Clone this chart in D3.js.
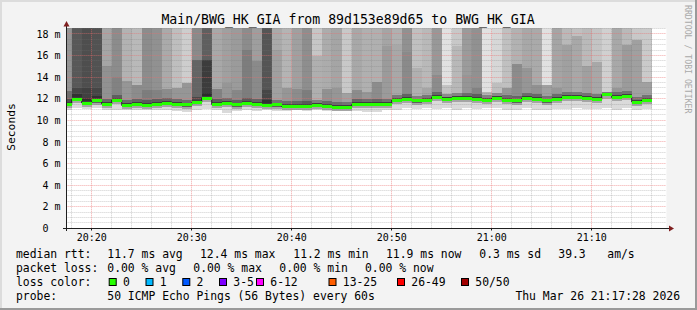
<!DOCTYPE html>
<html>
<head>
<meta charset="utf-8">
<script src="https://cdn.jsdelivr.net/npm/d3@7"></script>
<style>
body{margin:0;background:#f3f3f3;}
svg text{font-family:"DejaVu Sans Mono",monospace;fill:#000;}
</style>
</head>
<body>
<svg id="chart" width="697" height="310"></svg>
<script>
/* one smoke column per minute, value = end of the 60s step */
var minutes = ["20:18","20:19","20:20","20:21","20:22","20:23","20:24","20:25","20:26","20:27",
    "20:28","20:29","20:30","20:31","20:32","20:33","20:34","20:35","20:36","20:37",
    "20:38","20:39","20:40","20:41","20:42","20:43","20:44","20:45","20:46","20:47",
    "20:48","20:49","20:50","20:51","20:52","20:53","20:54","20:55","20:56","20:57",
    "20:58","20:59","21:00","21:01","21:02","21:03","21:04","21:05","21:06","21:07",
    "21:08","21:09","21:10","21:11","21:12","21:13","21:14","21:15","21:16"];

// median rtt (ms)
var medianRtt = [11.45,11.93,11.60,11.79,11.51,11.88,11.37,11.46,11.37,11.46,
    11.56,11.46,11.42,11.65,12.06,11.46,11.56,11.42,11.56,11.46,
    11.37,11.42,11.28,11.28,11.28,11.37,11.28,11.23,11.23,11.46,
    11.46,11.46,11.51,11.88,11.93,11.79,11.84,12.15,11.97,12.06,
    12.06,11.97,11.88,12.06,11.88,11.79,12.06,11.93,11.79,11.93,
    12.15,12.15,12.06,11.93,12.36,12.11,12.20,11.69,11.88];

// fastest ping of each step (ms)
var minRtt = [10.95,11.10,11.05,11.10,10.95,11.00,10.95,10.95,10.95,10.95,
    11.00,10.90,10.75,10.95,11.05,10.95,10.70,10.85,10.95,10.90,
    10.95,10.90,10.90,10.95,10.90,10.95,10.90,10.95,10.95,10.90,
    10.75,10.80,10.95,11.00,11.15,11.05,11.10,11.05,11.10,11.00,
    11.10,11.05,11.10,11.10,11.00,10.95,11.10,11.00,10.95,11.05,
    11.05,11.10,11.05,11.05,11.10,11.00,11.10,10.95,11.05];

// smoke density seen at the top of the graph (gray level)
var topShade = [148,88,78,82,165,140,178,185,140,145,
    170,190,205,138,95,168,160,155,140,158,
    85,170,180,160,142,198,172,165,200,168,
    176,176,165,176,145,192,185,152,225,200,
    155,145,225,215,192,178,168,170,225,165,
    185,192,186,196,208,168,185,200,202];

// rtt where the upper smoke changes density (ms)
var stepRtt = [12.70,12.96,13.00,13.00,15.00,14.00,13.60,13.30,12.80,12.80,
    12.90,13.00,13.50,15.60,15.60,12.90,13.50,12.80,16.50,15.50,
    12.80,16.50,13.00,12.90,12.80,16.00,12.90,13.00,12.50,12.80,
    12.60,13.57,16.90,17.00,16.30,14.80,13.00,14.20,13.30,16.90,
    14.20,13.00,12.60,13.50,12.96,15.20,14.80,13.30,13.27,13.00,
    17.00,17.80,15.00,15.40,12.65,13.00,17.00,17.40,13.57];

// smoke density below that change (gray level)
var midShade = [110,70,65,70,145,130,150,140,125,130,
    140,150,150,100,60,130,150,135,125,138,
    70,160,150,140,125,175,145,150,160,140,
    150,140,155,168,138,176,165,140,195,184,
    150,130,180,190,150,140,150,145,160,150,
    160,168,160,168,168,150,155,160,160];

// lost pings per step (of 50)
var lossCount = [0,0,0,0,0,0,0,0,0,0, 0,0,0,0,0,0,0,0,0,0,
    0,0,0,0,0,0,0,0,0,0, 0,0,0,0,0,0,0,0,0,0,
    0,0,0,0,0,0,0,0,0,0, 0,0,0,0,0,0,0,0,0];

var lossLabels = ["0","1","2","3-5","6-12","13-25","26-49","50/50"];
var lossUpper = [0,1,2,5,12,25,49,50];
var lossColors = ["#26ff00","#00b8ff","#0059ff","#7e00ff","#ff00ff","#ff5e00","#ff0000","#a10000"];

// summary lines as printed under the graph
var rttStats = ["11.7 ms avg","12.4 ms max","11.2 ms min","11.9 ms now","0.3 ms sd","39.3","am/s"];
var lossStats = ["0.00 % avg","0.00 % max","0.00 % min","0.00 % now"];

var yTicks = [0,2,4,6,8,10,12,14,16,18];

var svg = d3.select('#chart');
var W = 697, H = 310;

var day = function(s){
    var p = s.split(':');
    return new Date(2026,2,26,+p[0],+p[1],+(p[2]||0));
};
var tStart = day("20:17:28"), tEnd = day("21:17:28");

var x = d3.scaleTime().domain([tStart,tEnd]).range([66.4,666.4]);
var y = d3.scaleLinear().domain([0,18.52]).range([228.3,28.3]);
var gray = d3.scaleLinear().domain([0,255]).range(['#000000','#ffffff']);
var lossColor = d3.scaleThreshold().domain(lossUpper.slice(0,-1).map(function(d){return d+0.5;})).range(lossColors);
var px = function(v){ return Math.floor(v)+0.5; };

// background and 3d frame
svg.append('rect').attr('width',W).attr('height',H).style('fill','#f3f3f3');
svg.append('rect').attr('x',0).attr('y',0).attr('width',W).attr('height',2).style('fill','#dcdcdc');
svg.append('rect').attr('x',0).attr('y',0).attr('width',2).attr('height',H).style('fill','#dcdcdc');
svg.append('rect').attr('x',0).attr('y',H-2).attr('width',W).attr('height',2).style('fill','#9a9a9a');
svg.append('rect').attr('x',W-2).attr('y',0).attr('width',2).attr('height',H).style('fill','#9a9a9a');

// canvas
svg.append('rect')
    .attr('x',x.range()[0]).attr('y',y.range()[1])
    .attr('width',x.range()[1]-x.range()[0])
    .attr('height',y.range()[0]-y.range()[1])
    .style('fill','#fff');

// columns
var cols = minutes.map(function(m,i){
    var t1 = day(m);
    var t0 = new Date(Math.max(+tStart, t1 - 60000));
    return {x0:x(t0), x1:x(t1), i:i};
});

var yTop = y.domain()[1];
var smoke = svg.append('g').attr('class','smoke');

function band(c,lo,hi,shade){
    lo = Math.max(lo,0); hi = Math.min(hi,yTop);
    if(hi<=lo) return;
    smoke.append('rect')
        .attr('x',c.x0).attr('width',c.x1-c.x0)
        .attr('y',y(hi)).attr('height',y(lo)-y(hi))
        .attr('shape-rendering','crispEdges')
        .style('fill',gray(shade));
}

cols.forEach(function(c){
    var i = c.i, med = medianRtt[i], st = stepRtt[i], mid = midShade[i];
    band(c, st, yTop, topShade[i]);
    band(c, Math.min(med+0.5,st), st, mid);
    band(c, Math.min(med+0.2,st), Math.min(med+0.5,st), mid*0.72);
    band(c, med, Math.min(med+0.2,st), 62);
    band(c, med-0.15, med, 95);
    band(c, med-0.35, med-0.15, 165);
    band(c, minRtt[i], med-0.35, 218);
});

// grid
var grid = svg.append('g').attr('class','grid');
var minorY = d3.range(0,18.51,0.5).filter(function(v){return v%2!==0;});
var minorX = d3.timeMinute.every(2).range(tStart,tEnd).filter(function(t){return t.getMinutes()%10!==0;});
var majorX = d3.timeMinute.every(10).range(tStart,tEnd);
var minorStroke = 'rgba(120,120,120,0.36)', majorStroke = 'rgba(235,110,110,0.6)';

grid.selectAll('line.minor-y').data(minorY).enter().append('line')
    .attr('x1',x.range()[0]).attr('x2',x.range()[1])
    .attr('y1',function(d){return px(y(d));}).attr('y2',function(d){return px(y(d));})
    .style('stroke',minorStroke).style('stroke-dasharray','1,1');
grid.selectAll('line.minor-x').data(minorX).enter().append('line')
    .attr('y1',y.range()[0]).attr('y2',y.range()[1])
    .attr('x1',function(d){return px(x(d));}).attr('x2',function(d){return px(x(d));})
    .style('stroke',minorStroke).style('stroke-dasharray','1,1');
grid.selectAll('line.major-y').data(yTicks.slice(1)).enter().append('line')
    .attr('x1',x.range()[0]).attr('x2',x.range()[1])
    .attr('y1',function(d){return px(y(d));}).attr('y2',function(d){return px(y(d));})
    .style('stroke',majorStroke).style('stroke-dasharray','1,1');
grid.selectAll('line.major-x').data(majorX).enter().append('line')
    .attr('y1',y.range()[0]).attr('y2',y.range()[1])
    .attr('x1',function(d){return px(x(d));}).attr('x2',function(d){return px(x(d));})
    .style('stroke',majorStroke).style('stroke-dasharray','1,1');

// median: dark step line under the loss coloured band
var pts = [];
cols.forEach(function(c){
    pts.push([c.x0, y(medianRtt[c.i])]);
    pts.push([c.x1, y(medianRtt[c.i])]);
});
svg.append('path')
    .attr('d',d3.line()(pts))
    .style('fill','none').style('stroke','#202020').style('stroke-width',1);

svg.append('g').selectAll('rect').data(cols).enter().append('rect')
    .attr('x',function(c){return c.x0;})
    .attr('width',function(c){return c.x1-c.x0;})
    .attr('y',function(c){return y(medianRtt[c.i])-1.5;})
    .attr('height',3)
    .attr('shape-rendering','crispEdges')
    .style('fill',function(c){return lossColor(lossCount[c.i]);});

// axes
var ax = svg.append('g').style('stroke','#1f1f1f').style('stroke-width',1);
ax.append('line').attr('x1',63).attr('x2',669).attr('y1',px(y(0))).attr('y2',px(y(0)));
ax.append('line').attr('x1',px(x.range()[0])).attr('x2',px(x.range()[0])).attr('y1',231).attr('y2',26);
ax.selectAll('line.tick').data(majorX).enter().append('line')
    .attr('x1',function(d){return px(x(d));}).attr('x2',function(d){return px(x(d));})
    .attr('y1',px(y(0))).attr('y2',px(y(0))+2);
svg.append('path').attr('d','M63.5,26.5L69.5,26.5L66.5,21Z').style('fill','#7f1f1f');
svg.append('path').attr('d','M669,225.5L669,231.5L674,228.5Z').style('fill','#7f1f1f');

// tick labels
svg.append('g').selectAll('text').data(yTicks).enter().append('text')
    .attr('x',60.5).attr('y',function(d){return y(d)+3.6;})
    .attr('text-anchor','end').style('font-size','10px')
    .text(function(d){return d===0 ? '0\u00a0\u00a0' : d+' m';});

svg.append('g').selectAll('text').data(majorX).enter().append('text')
    .attr('x',function(d){return x(d);}).attr('y',241)
    .attr('text-anchor','middle').style('font-size','10px')
    .text(d3.timeFormat('%H:%M'));

// titles
svg.append('text').attr('x',348).attr('y',24).attr('text-anchor','middle')
    .style('font-size','13.2px').text('Main/BWG_HK_GIA from 89d153e89d65 to BWG_HK_GIA');
svg.append('text').attr('transform','translate(15,127) rotate(-90)')
    .attr('text-anchor','middle').style('font-size','11.3px').text('Seconds');
svg.append('text').attr('transform','translate(685,5) rotate(90)')
    .style('font-size','8.2px').style('fill','#a9a9a9').text('RRDTOOL / TOBI OETIKER');

// legend
var lg = svg.append('g').style('font-size','11.4px');
function put(tx,xx,yy,anchor){
    lg.append('text').attr('x',xx).attr('y',yy).attr('text-anchor',anchor||'start').text(tx);
}
put('median rtt:',16,258);
var rttX = [107.3,200,293.3,386,479.3,558.3,607.3];
rttStats.forEach(function(s,i){ put(s,rttX[i],258); });

put('packet loss:',16,272);
var lossX = [107.3,193.3,279.3,365];
lossStats.forEach(function(s,i){ put(s,lossX[i],272); });

put('loss color:',16,286);
var boxX = [108.7,145.5,182.3,219,256,328.5,397,461];
lossLabels.forEach(function(l,i){
    lg.append('rect').attr('x',boxX[i]+0.5).attr('y',278.5).attr('width',7).attr('height',7)
        .style('fill',lossColors[i]).style('stroke','#000').style('stroke-width',1);
    put(l,boxX[i]+14.3,286);
});

put('probe:',16,300);
put('50 ICMP Echo Pings (56 Bytes) every 60s',107.3,300);
put('Thu Mar 26 21:17:28 2026',680,300,'end');
</script>
</body>
</html>
